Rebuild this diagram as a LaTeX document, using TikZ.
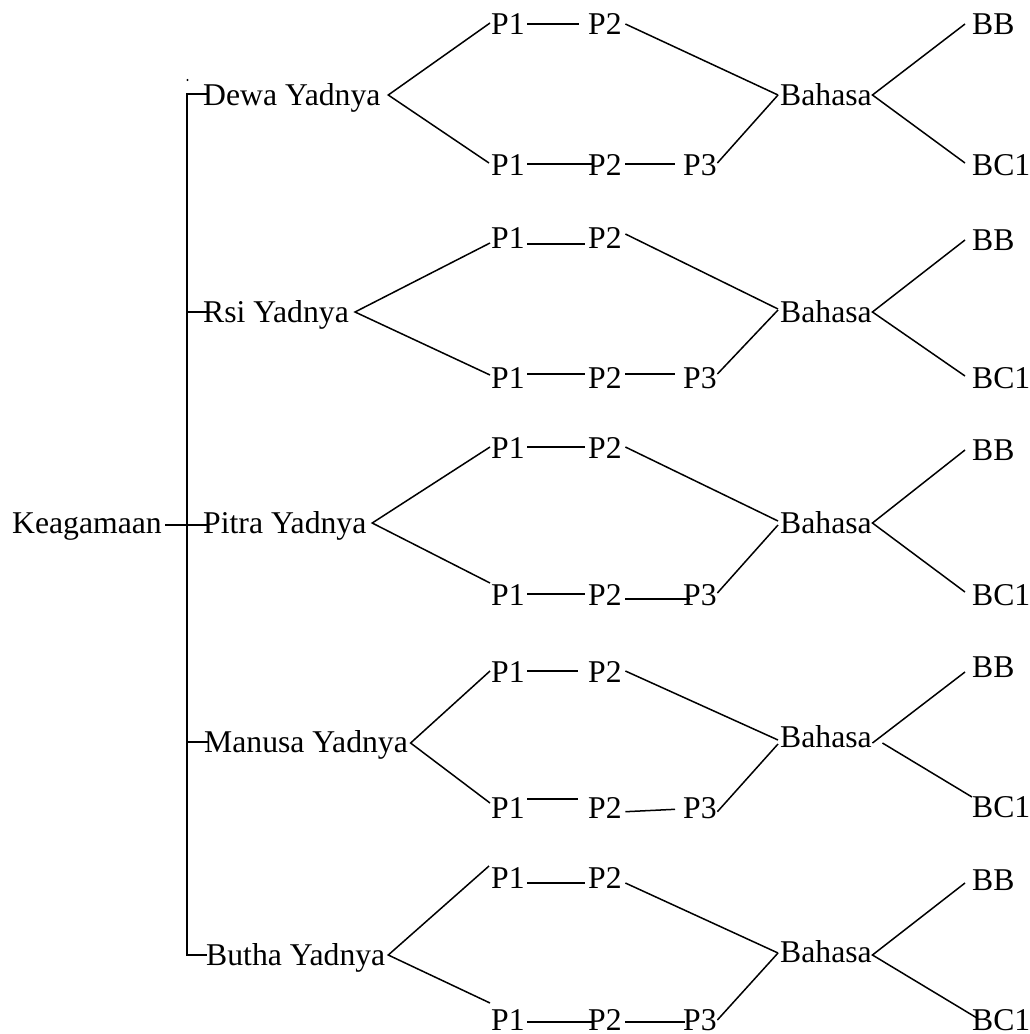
\documentclass[tikz,border=0pt]{standalone}
\usepackage{fontspec}
\setmainfont{Liberation Serif}
\begin{document}
\begin{tikzpicture}[x=1pt,y=-1pt,
  lbl/.style={inner sep=0pt,text height=21pt,text depth=0pt,anchor=west,
    font=\fontsize{31.7}{38}\selectfont},
  ln/.style={line width=1.5pt,line cap=butt}]
\useasboundingbox (0,0) rectangle (1030,1034);
% left part
\node[lbl] (keag) at (12,523) {Keagamaan};
\node[lbl] (dewa) at (203,95) {Dewa Yadnya};
\node[lbl] (rsi) at (203,312) {Rsi Yadnya};
\node[lbl] (pitra) at (203,523) {Pitra Yadnya};
\node[lbl] (manusa) at (204,742) {Manusa Yadnya};
\node[lbl] (butha) at (206,955) {Butha Yadnya};
\coordinate (tt) at (187,94);
\coordinate (tb) at (187,955);
\coordinate (dot) at (187.5,80);
\fill (dot) circle (1.1pt);
\draw[ln] ([shift={(4,-1)}]dewa.west) -- (tt) -- (tb) -- ([shift={(1,0)}]butha.west);
\draw[ln] (tt |- rsi.west) -- ([xshift=4pt]rsi.west);
\draw[ln] (tt |- manusa.west) -- ([xshift=4pt]manusa.west);
\draw[ln] ([shift={(3,2)}]keag.east) -- ([shift={(5,2)}]pitra.west);

% ---------- row 1
\node[lbl] (p1t1) at (491,24) {P1};
\node[lbl] (p2t1) at (588,24) {P2};
\node[lbl] (p1b1) at (491,165) {P1};
\node[lbl] (p2b1) at (588,165) {P2};
\node[lbl] (p3b1) at (683,165) {P3};
\node[lbl] (bah1) at (780,95) {Bahasa};
\node[lbl] (bb1) at (972,24) {BB};
\node[lbl] (bc1) at (972,165) {BC1};
\draw[ln] ([shift={(-1,-1)}]p1t1.west) -- ([xshift=7.6pt]dewa.east) -- ([shift={(-2,-2)}]p1b1.west);
\draw[ln] ([xshift=2.5pt]p1t1.east) -- ([xshift=-9pt]p2t1.west);
\draw[ln] ([xshift=3.5pt]p2t1.east) -- ([xshift=-2pt]bah1.west);
\draw[ln] ([shift={(2.5,-1)}]p1b1.east) -- ([shift={(5,-1)}]p2b1.west);
\draw[ln] ([shift={(3.5,-1)}]p2b1.east) -- ([shift={(-8,-1)}]p3b1.west);
\draw[ln] ([shift={(0.5,-2)}]p3b1.east) -- ([xshift=-2pt]bah1.west);
\draw[ln] ([xshift=-7pt]bb1.west) -- ([xshift=0.5pt]bah1.east) -- ([shift={(-7,-2)}]bc1.west);

% ---------- row 2
\node[lbl] (p1t2) at (491,238) {P1};
\node[lbl] (p2t2) at (588,238) {P2};
\node[lbl] (p1b2) at (491,378) {P1};
\node[lbl] (p2b2) at (588,378) {P2};
\node[lbl] (p3b2) at (683,378) {P3};
\node[lbl] (bah2) at (780,312) {Bahasa};
\node[lbl] (bb2) at (972,240) {BB};
\node[lbl] (bc2) at (972,378) {BC1};
\draw[ln] ([shift={(-1,5)}]p1t2.west) -- ([xshift=6pt]rsi.east) -- ([shift={(-1,-3)}]p1b2.west);
\draw[ln] ([shift={(2.5,6)}]p1t2.east) -- ([shift={(-3,6)}]p2t2.west);
\draw[ln] ([shift={(3.5,-4)}]p2t2.east) -- ([shift={(-2,-3)}]bah2.west);
\draw[ln] ([shift={(2.5,-4)}]p1b2.east) -- ([shift={(-3,-4)}]p2b2.west);
\draw[ln] ([shift={(3.5,-4)}]p2b2.east) -- ([shift={(-8,-4)}]p3b2.west);
\draw[ln] ([shift={(0.5,-4)}]p3b2.east) -- ([shift={(-2,-2)}]bah2.west);
\draw[ln] ([xshift=-7pt]bb2.west) -- ([xshift=0.5pt]bah2.east) -- ([shift={(-7,-2)}]bc2.west);

% ---------- row 3
\node[lbl] (p1t3) at (491,448) {P1};
\node[lbl] (p2t3) at (588,448) {P2};
\node[lbl] (p1b3) at (491,595) {P1};
\node[lbl] (p2b3) at (588,595) {P2};
\node[lbl] (p3b3) at (683,595) {P3};
\node[lbl] (bah3) at (780,523) {Bahasa};
\node[lbl] (bb3) at (972,450) {BB};
\node[lbl] (bc3) at (972,595) {BC1};
\draw[ln] ([shift={(-1,-1)}]p1t3.west) -- ([xshift=5.6pt]pitra.east) -- ([shift={(-1,-12)}]p1b3.west);
\draw[ln] ([shift={(2.5,-1)}]p1t3.east) -- ([shift={(-3,-1)}]p2t3.west);
\draw[ln] ([shift={(3.5,-1)}]p2t3.east) -- ([shift={(-2,-2)}]bah3.west);
\draw[ln] ([shift={(2.5,-1)}]p1b3.east) -- ([shift={(-3,-1)}]p2b3.west);
\draw[ln] ([shift={(3.5,4)}]p2b3.east) -- ([shift={(7,4)}]p3b3.west);
\draw[ln] ([shift={(0.5,-2)}]p3b3.east) -- ([shift={(-2,2)}]bah3.west);
\draw[ln] ([xshift=-7pt]bb3.west) -- ([xshift=0.5pt]bah3.east) -- ([shift={(-7,-3)}]bc3.west);

% ---------- row 4
\node[lbl] (p1t4) at (491,672) {P1};
\node[lbl] (p2t4) at (588,672) {P2};
\node[lbl] (p1b4) at (491,808) {P1};
\node[lbl] (p2b4) at (588,808) {P2};
\node[lbl] (p3b4) at (683,808) {P3};
\node[lbl] (bah4) at (780,737) {Bahasa};
\node[lbl] (bb4) at (972,667) {BB};
\node[lbl] (bc4) at (972,807) {BC1};
\draw[ln] ([shift={(-1,-1)}]p1t4.west) -- ([shift={(2.5,1)}]manusa.east) -- ([shift={(-1,-5)}]p1b4.west);
\draw[ln] ([shift={(2.5,-1)}]p1t4.east) -- ([shift={(-10,-1)}]p2t4.west);
\draw[ln] ([shift={(3.5,-1)}]p2t4.east) -- ([shift={(-2,3)}]bah4.west);
\draw[ln] ([shift={(2.5,-9)}]p1b4.east) -- ([shift={(-10,-9)}]p2b4.west);
\draw[ln] ([shift={(3.5,3.7)}]p2b4.east) -- ([shift={(-8,1.3)}]p3b4.west);
\draw[ln] ([shift={(0.5,3.7)}]p3b4.east) -- ([shift={(-2,7)}]bah4.west);
\draw[ln] ([shift={(-7,5)}]bb4.west) -- ([shift={(0.5,6)}]bah4.east);
\draw[ln] ([shift={(10.5,6)}]bah4.east) -- ([shift={(0,-10)}]bc4.west);

% ---------- row 5
\node[lbl] (p1t5) at (491,878) {P1};
\node[lbl] (p2t5) at (588,878) {P2};
\node[lbl] (p1b5) at (491,1020) {P1};
\node[lbl] (p2b5) at (588,1020) {P2};
\node[lbl] (p3b5) at (683,1020) {P3};
\node[lbl] (bah5) at (780,952) {Bahasa};
\node[lbl] (bb5) at (972,880) {BB};
\node[lbl] (bc5) at (972,1020) {BC1};
\draw[ln] ([shift={(-2,-12)}]p1t5.west) -- ([xshift=2.8pt]butha.east) -- ([shift={(-1,-17)}]p1b5.west);
\draw[ln] ([shift={(2.5,5)}]p1t5.east) -- ([shift={(-3,5)}]p2t5.west);
\draw[ln] ([shift={(3.5,5)}]p2t5.east) -- ([shift={(-2,1)}]bah5.west);
\draw[ln] ([shift={(2.5,2)}]p1b5.east) -- ([shift={(5,2)}]p2b5.west);
\draw[ln] ([shift={(3.5,2)}]p2b5.east) -- ([shift={(2,2)}]p3b5.west);
\draw[ln] ([shift={(0.5,0)}]p3b5.east) -- ([shift={(-2,1)}]bah5.west);
\draw[ln] ([shift={(-7,3)}]bb5.west) -- ([shift={(0.5,3)}]bah5.east) -- ([shift={(5,-2)}]bc5.west);
\end{tikzpicture}
\end{document}
